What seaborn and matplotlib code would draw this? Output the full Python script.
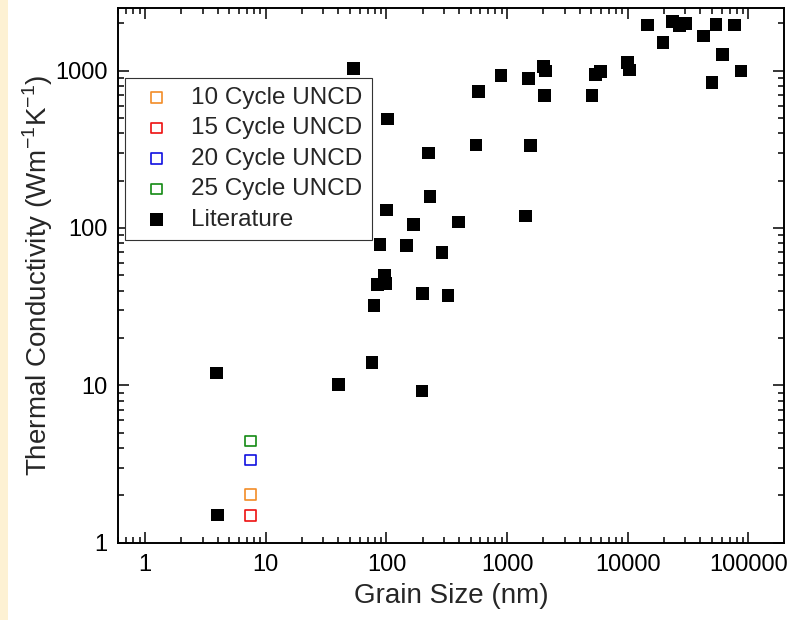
import matplotlib
matplotlib.use("Agg")
import matplotlib.pyplot as plt
import matplotlib.ticker as mticker
from matplotlib.patches import Rectangle
import seaborn as sns
import pandas as pd

# UNCD films (this work)
uncd_labels = ["10 Cycle UNCD", "15 Cycle UNCD", "20 Cycle UNCD", "25 Cycle UNCD"]
uncd_grain = [7.5, 7.5, 7.5, 7.5]
uncd_k = [2.03, 1.49, 3.36, 4.43]
uncd_colors = ["#F28C28", "#EE1111", "#1010E0", "#138A13"]

# literature values
lit_grain = [3.9, 4.0, 53, 102, 223, 580, 551, 230, 100, 167, 396,
             88.5, 147, 288, 96, 84, 99, 199, 323, 79, 75.7, 39.8, 197,
             889, 1500, 1990, 2066, 2035, 1557, 1416, 5047, 5420, 5960,
             9890, 10370, 14560, 19580, 23570, 26900, 30200, 42600, 53900,
             61000, 49800, 76500, 86900]
lit_k = [12.0, 1.5, 1032, 493, 299, 733, 337, 158, 130, 105, 109,
         78.7, 77.2, 69.5, 49.7, 43.5, 44.3, 38.5, 37.1, 32.0, 14.0, 10.1, 9.2,
         936, 891, 1057, 993, 693, 336, 119, 693, 940, 983,
         1130, 1010, 1946, 1514, 2058, 1927, 1985, 1657, 1964,
         1266, 836, 1946, 993]

lit = pd.DataFrame({"grain": lit_grain, "k": lit_k})

sns.set_style("ticks")
plt.rcParams["font.family"] = ["Liberation Sans", "DejaVu Sans"]

fig = plt.figure(figsize=(8, 6.2), dpi=100)
fig.patches.append(Rectangle((0, 0), 8 / 800, 1, transform=fig.transFigure,
                             facecolor="#FDF1D3", edgecolor="none", zorder=0))
ax = fig.add_axes([0.148, 0.1247, 0.8316, 0.8624])

for lab, g, k, c in zip(uncd_labels, uncd_grain, uncd_k, uncd_colors):
    sns.scatterplot(x=[g], y=[k], marker="s", s=58, facecolor="none",
                    edgecolor=c, linewidth=1.2, label=lab, ax=ax)

sns.scatterplot(data=lit, x="grain", y="k", marker="s", s=84, color="black",
                edgecolor="none", linewidth=0, label="Literature", ax=ax)

ax.set_xscale("log")
ax.set_yscale("log")
ax.set_xlim(0.6, 196000)
ax.set_ylim(1, 2500)

ax.xaxis.set_major_locator(mticker.LogLocator(base=10, numticks=12))
ax.yaxis.set_major_locator(mticker.LogLocator(base=10, numticks=12))
ax.xaxis.set_minor_locator(mticker.LogLocator(base=10, subs=range(2, 10), numticks=12))
ax.yaxis.set_minor_locator(mticker.LogLocator(base=10, subs=range(2, 10), numticks=12))
ax.xaxis.set_major_formatter(mticker.FuncFormatter(lambda v, p: f"{v:g}" if v < 1e5 else "100000"))
ax.yaxis.set_major_formatter(mticker.FuncFormatter(lambda v, p: f"{v:g}"))
ax.xaxis.set_minor_formatter(mticker.NullFormatter())
ax.yaxis.set_minor_formatter(mticker.NullFormatter())

ax.tick_params(which="both", direction="in", top=True, right=True, width=1.1,
               colors="black")
ax.tick_params(which="major", length=8, labelsize=17, pad=8)
ax.tick_params(which="minor", length=4)
for sp in ax.spines.values():
    sp.set_linewidth(1.4)
    sp.set_color("black")

ax.set_xlabel("Grain Size (nm)", fontsize=20, labelpad=5)
ax.set_ylabel("Thermal Conductivity (Wm$^{\\mathregular{-1}}$K$^{\\mathregular{-1}}$)",
              fontsize=20, labelpad=0)

leg = ax.legend(loc="upper left", bbox_to_anchor=(0.0095, 0.87), fontsize=17.5,
                frameon=True, fancybox=False, framealpha=1, edgecolor="#333333",
                borderpad=0.38, labelspacing=0.35, handletextpad=0.5,
                handlelength=1.85, borderaxespad=0)
leg.get_frame().set_linewidth(0.8)

fig.savefig("out.png", dpi=100)
